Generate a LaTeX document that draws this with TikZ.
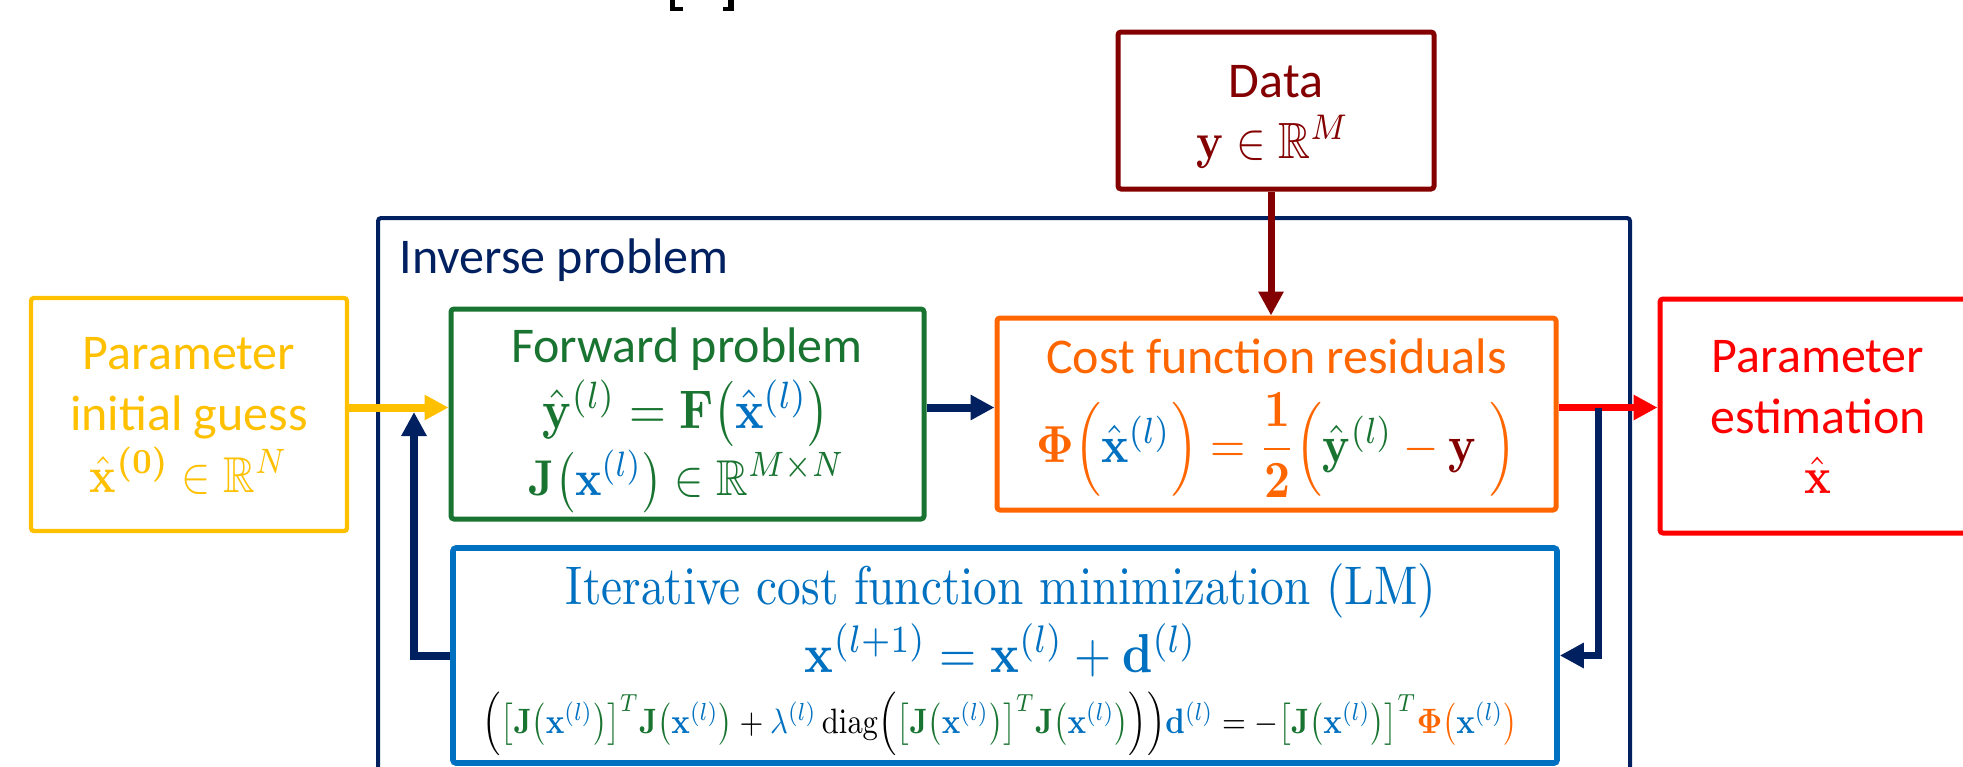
\documentclass[tikz,border=0pt]{standalone}
\usepackage{amsmath,amssymb,bm}
\usepackage{graphicx}
\usepackage[no-math]{fontspec}
\setsansfont{Carlito}
\usetikzlibrary{arrows.meta,calc,fit}

\definecolor{cyel}{RGB}{255,192,0}
\definecolor{cgrn}{RGB}{24,116,48}
\definecolor{cnavy}{RGB}{0,32,96}
\definecolor{cdred}{RGB}{132,0,0}
\definecolor{corg}{RGB}{255,102,0}
\definecolor{cred}{RGB}{255,0,0}
\definecolor{cblue}{RGB}{0,112,192}

\newcommand{\sz}{\sffamily\fontsize{25}{29}\selectfont}
\newcommand{\Jx}{{\color{cgrn}\mathbf{J}\bigl({\color{cblue}\mathbf{x}^{(l)}}\bigr)}}
\newcommand{\JxT}{{\color{cgrn}\bigl[\mathbf{J}\bigl({\color{cblue}\mathbf{x}^{(l)}}\bigr)\bigr]^{T}}}
\newcommand{\eqfit}[2]{\resizebox{#1}{!}{\scalebox{1}[1.15]{#2}}}

\tikzset{
  box/.style={draw, rectangle, rounded corners=1.5pt, inner sep=0pt, line width=2.5pt},
  txt/.style={inner sep=0pt, anchor=base, font=\sz},
  mth/.style={inner sep=0pt, anchor=base},
  conn/.style={line width=4pt, -{Triangle[length=12pt,width=12pt]}},
}

\begin{document}
\begin{tikzpicture}[x=0.5pt,y=-0.5pt]
\useasboundingbox (0,0) rectangle (1963,766);
\clip (0,0) rectangle (1963,766);

% cut-off bracket fragments at the top
\fill[black] (670,0) rectangle (675,11);
\fill[black] (670,7) rectangle (683,11);
\fill[black] (728,0) rectangle (734,11);
\fill[black] (723,7) rectangle (734,11);

% boxes
\node[box, draw=cnavy, line width=2pt, fit={(378,218) (1630,820)}] (inv) {};
\node[txt, text=cnavy, anchor=base west] (invlbl) at (399,273) {Inverse problem};

\node[box, draw=cyel, line width=2.2pt, fit={(31,298) (347,531)}] (pig) {};
\node[box, draw=cdred, fit={(1118,32) (1434,189)}] (data) {};
\node[box, draw=cgrn, fit={(451,309) (924,519)}] (fwd) {};
\node[box, draw=corg, fit={(997,318) (1556,510)}] (cost) {};
\node[box, draw=cred, fit={(1660,299) (1976,533)}] (est) {};
\node[box, draw=cblue, line width=2.8pt, fit={(453,548) (1557,763)}] (iter) {};

% texts: parameter initial guess
\node[txt, text=cyel] (pig1) at (189,369) {Parameter};
\node[txt, text=cyel] (pig2) at (189,430) {initial guess};
\node[mth, text=cyel] (pig3) at (189,492) {\eqfit{99pt}{$\hat{\mathbf{x}}^{\bm{(0)}}\in\mathbb{R}^{N}$}};

% data
\node[txt, text=cdred] (data1) at (1276,97) {Data};
\node[mth, text=cdred] (data2) at (1273,158) {\eqfit{76.5pt}{$\mathbf{y}\in\mathbb{R}^{M}$}};

% forward problem
\node[txt, text=cgrn] (fwd1) at (687,362) {Forward problem};
\node[mth, text=cgrn] (fwd2) at (686,428) {\eqfit{143.5pt}{$\hat{\mathbf{y}}^{(l)}=\mathbf{F}\bigl({\color{cblue}\hat{\mathbf{x}}^{(l)}}\bigr)$}};
\node[mth, text=cgrn] (fwd3) at (687,495) {\eqfit{158pt}{$\mathbf{J}\bigl({\color{cblue}\mathbf{x}^{(l)}}\bigr)\in\mathbb{R}^{M\times N}$}};

% cost function
\node[txt, text=corg] (cost1) at (1276.5,373) {Cost function residuals};
\node[mth, text=corg] (cost2) at (1276.5,462) {\eqfit{240pt}{$\mathbf{\Phi}\Bigl({\color{cblue}\hat{\mathbf{x}}^{(l)}}\Bigr)=\dfrac{\mathbf{1}}{\mathbf{2}}\Bigl({\color{cgrn}\hat{\mathbf{y}}^{(l)}}-{\color{cdred}\mathbf{y}}\;\Bigr)$}};

% parameter estimation
\node[txt, text=cred] (est1) at (1818,372) {Parameter};
\node[txt, text=cred] (est2) at (1818,433) {estimation};
\node[mth, text=cred] (est3) at (1818,493) {\eqfit{13.5pt}{$\hat{\mathbf{x}}$}};

% iterative minimization
\node[mth, text=cblue] (it1) at (1001,604) {\eqfit{435pt}{\rmfamily Iterative cost function minimization (LM)}};
\node[mth, text=cblue] (it2) at (1001,672) {\eqfit{196pt}{$\mathbf{x}^{(l+1)}=\mathbf{x}^{(l)}+\mathbf{d}^{(l)}$}};
\node[mth, text=black] (it3) at (1000,733) {\eqfit{517.5pt}{$\Bigl(\JxT\Jx+{\color{cblue}\lambda^{(l)}}\,\mathrm{diag}\Bigl(\JxT\Jx\Bigr)\Bigr){\color{cblue}\mathbf{d}^{(l)}}=-\JxT{\color{corg}\mathbf{\Phi}\bigl({\color{cblue}\mathbf{x}^{(l)}}\bigr)}$}};

% connectors
\coordinate (ay) at (0,407.5);
\coordinate (lb) at (414,412);
\coordinate (rb) at (1598,407.5);

\draw[conn, cdred, line width=3.5pt] ([xshift=-2.5pt]data.south) -- ([xshift=-2.5pt]data.south |- cost.north);
\draw[conn, cnavy] (iter.west) -| (lb);
\draw[conn, cyel] (pig.east |- ay) -- (fwd.west |- ay);
\draw[conn, cnavy] (fwd.east |- ay) -- (cost.west |- ay);
\draw[conn, cred, line width=3.5pt] (cost.east |- ay) -- (est.west |- ay);
\draw[conn, cnavy, line width=3.5pt] (rb) |- (iter.east);
\end{tikzpicture}
\end{document}
